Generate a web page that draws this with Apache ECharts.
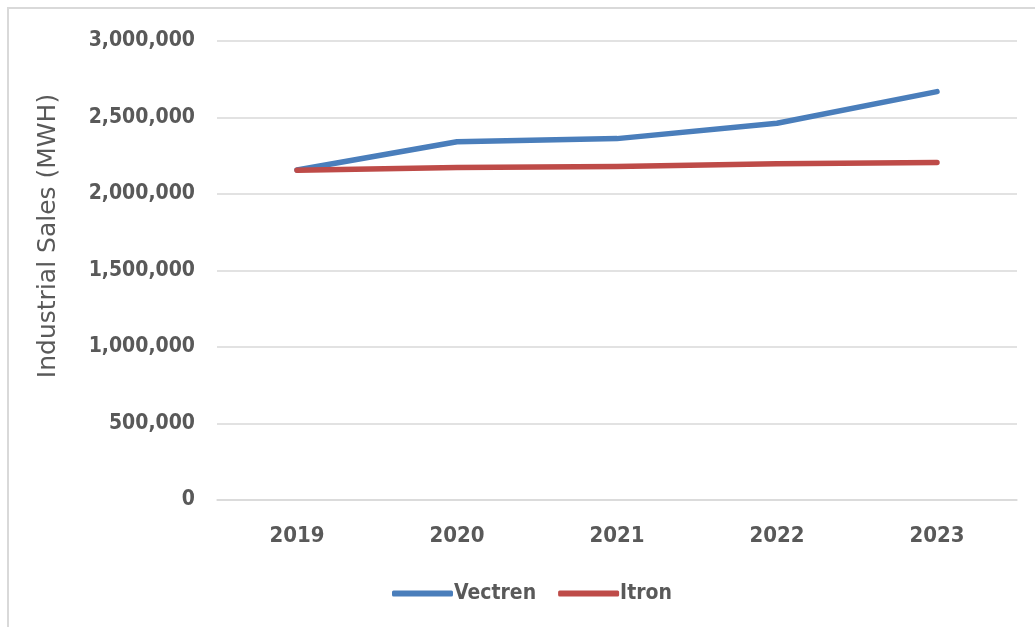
<!DOCTYPE html>
<html>
<head>
<meta charset="utf-8">
<title>Industrial Sales (MWH)</title>
<script src="https://cdn.jsdelivr.net/npm/echarts@6/dist/echarts.min.js"></script>
<style>
  html, body { margin: 0; padding: 0; background: #ffffff; }
  #chart { width: 1035px; height: 627px; }
</style>
</head>
<body>
<div id="chart"></div>
<script>
// Annual industrial sales, MWH
const years = ['2019', '2020', '2021', '2022', '2023'];
const vectren = [2157000, 2342000, 2362000, 2462000, 2669000];
const itron = [2155000, 2173000, 2180000, 2197000, 2206000];
const seriesNames = ['Vectren', 'Itron'];
const axisTitle = 'Industrial Sales (MWH)';

const textGrey = '#595959';
const gridGrey = '#d9d9d9';
const labelFont = '"DejaVu Sans Condensed", "DejaVu Sans", sans-serif';

const chart = echarts.init(document.getElementById('chart'), null, { renderer: 'canvas' });

chart.setOption({
  backgroundColor: '#ffffff',
  animation: false,
  grid: { left: 217, right: 18, top: 41, bottom: 127, containLabel: false },
  legend: {
    data: seriesNames,
    left: 387,
    top: 578,
    icon: 'roundRect',
    itemWidth: 61,
    itemHeight: 6,
    itemGap: 22,
    textStyle: {
      color: textGrey,
      fontFamily: labelFont,
      fontWeight: 'bold',
      fontSize: 21,
      padding: [0, 0, 0, -4]
    }
  },
  xAxis: {
    type: 'category',
    data: years,
    boundaryGap: true,
    axisLine: { show: true, lineStyle: { color: gridGrey, width: 1.5 } },
    axisTick: { show: false },
    axisLabel: {
      color: textGrey,
      fontFamily: labelFont,
      fontWeight: 'bold',
      fontSize: 22,
      margin: 25
    },
    splitLine: { show: false }
  },
  yAxis: {
    type: 'value',
    min: 0,
    max: 3000000,
    interval: 500000,
    axisLine: { show: false },
    axisTick: { show: false },
    axisLabel: {
      color: textGrey,
      fontFamily: labelFont,
      fontWeight: 'bold',
      fontSize: 21,
      margin: 22,
      formatter: v => v.toLocaleString('en-US')
    },
    splitLine: { lineStyle: { color: gridGrey, width: 1.5 } }
  },
  series: [
    {
      name: seriesNames[0],
      type: 'line',
      data: vectren,
      showSymbol: false,
      symbol: 'none',
      lineStyle: { color: '#4a7ebb', width: 5.5, cap: 'round', join: 'round' },
      itemStyle: { color: '#4a7ebb' },
      z: 2
    },
    {
      name: seriesNames[1],
      type: 'line',
      data: itron,
      showSymbol: false,
      symbol: 'none',
      lineStyle: { color: '#be4b48', width: 5.5, cap: 'round', join: 'round' },
      itemStyle: { color: '#be4b48' },
      z: 3
    }
  ],
  graphic: [
    {
      // chart frame: top and left edges
      type: 'polyline',
      shape: { points: [[8, 627], [8, 8], [1035, 8]] },
      style: { stroke: gridGrey, lineWidth: 2, fill: null },
      silent: true
    },
    {
      type: 'text',
      x: 48,
      y: 236,
      rotation: Math.PI / 2,
      style: {
        text: axisTitle,
        fill: textGrey,
        font: '25px "DejaVu Sans", sans-serif',
        align: 'center',
        verticalAlign: 'middle'
      },
      silent: true
    }
  ]
});
</script>
</body>
</html>
